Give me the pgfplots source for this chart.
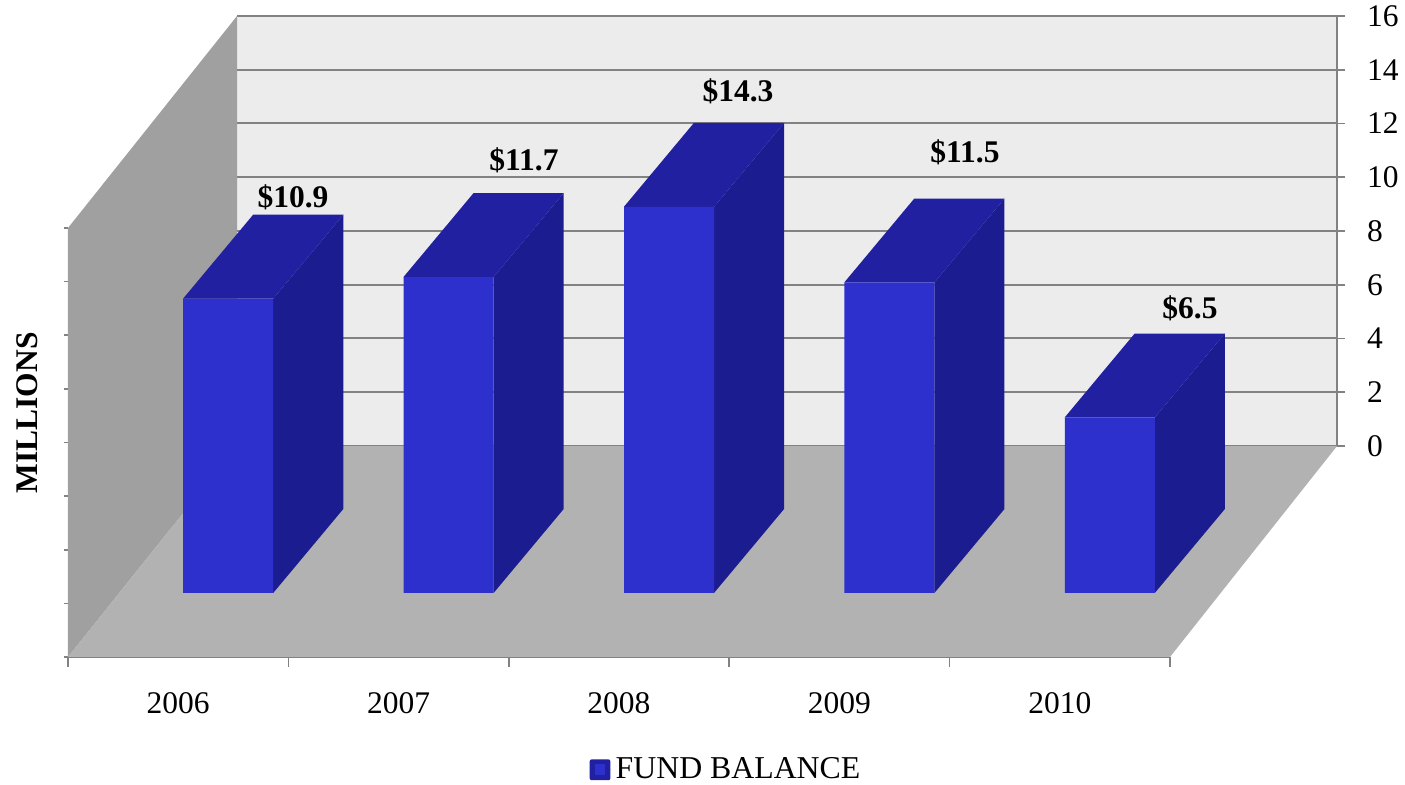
\documentclass[border=0pt]{standalone}
\usepackage{fontspec}
\setmainfont{Liberation Serif}
\usepackage{pgfplots}
\pgfplotsset{compat=1.18}
\definecolor{barfront}{RGB}{46,48,205}
\definecolor{barside}{RGB}{28,28,145}
\definecolor{bartop}{RGB}{32,32,160}
\definecolor{wallback}{RGB}{236,236,236}
\definecolor{wallleft}{RGB}{160,160,160}
\definecolor{floorgrey}{RGB}{178,178,178}
\definecolor{rulegrey}{RGB}{130,130,130}
\begin{document}
\begin{tikzpicture}
\path[use as bounding box] (0pt,0pt) rectangle (702.5pt,392.5pt);
\pgfplotsset{
  every axis/.append style={
    scale only axis,
    tick align=outside,
    /pgf/number format/assume math mode=true,
    tick label style={font=\fontsize{15.75}{18}\selectfont},
  }
}
% back wall with its grid and the value scale on the right
\begin{axis}[
  at={(118.5pt,169.5pt)}, anchor=south west, width=550pt, height=215pt,
  xmin=0, xmax=1, ymin=0, ymax=16,
  xtick=\empty,
  x axis line style={draw=none},
  axis line style={-, rulegrey, line width=1pt},
  ymajorgrids, ytick={0,2,...,16},
  axis y line*=right,
  axis x line*=bottom,
  grid style={rulegrey, line width=1pt},
  tick style={rulegrey, line width=0.8pt},
  major tick length=4pt,
  yticklabel style={xshift=7.5pt},
  axis background/.style={fill=wallback},
]
\end{axis}
% tick marks on the front edge of the side wall
\begin{axis}[
  at={(34pt,64pt)}, anchor=south west, width=551pt, height=214.5pt,
  xmin=0, xmax=1, ymin=0, ymax=16,
  xtick=\empty,
  axis line style={-, draw=none},
  axis y line*=left,
  axis x line*=bottom,
  ytick={0,2,...,16},
  yticklabels={},
  tick style={rulegrey, line width=0.8pt},
  major tick length=2pt,
]
\end{axis}
% floor, side wall and bars; y is in millions on the front plane of the bars
\begin{axis}[
  at={(34pt,64pt)}, anchor=south west, width=551pt, height=320.5pt,
  xmin=0, xmax=5, ymin=-2.37, ymax=21.37,
  clip=false,
  axis y line=none,
  axis x line=bottom,
  x tick style={},
  tick align=outside,
  axis line style={-, rulegrey, line width=1pt},
  xtick={0.5,1.5,2.5,3.5,4.5},
  xticklabels={2006,2007,2008,2009,2010},
  minor xtick={0,1,2,3,4,5},
  major tick length=0pt,
  minor tick length=5pt,
  minor tick style={rulegrey, line width=0.8pt},
  xticklabel style={yshift=-14pt},
  legend style={at={(0.598,-0.176)}, anchor=center, draw=none, fill=none,
    font=\fontsize{15.9}{18}\selectfont, inner sep=0pt,
    /tikz/every even column/.style={column sep=0pt}},
  legend cell align=left,
]
% side wall and floor
\addplot[forget plot, draw=none, fill=wallleft] coordinates
  {(0,-2.37) (0,13.52) (0.767,21.37) (0.767,5.444)} -- cycle;
\addplot[forget plot, draw=none, fill=floorgrey] coordinates
  {(0,-2.37) (5,-2.37) (5.758,5.444) (0.767,5.444)} -- cycle;

% right faces of the bars
\addplot[forget plot, draw=none, fill=barside] coordinates {(0.931,0) (1.249,3.11) (1.249,14.01) (0.931,10.9)} -- cycle;
\addplot[forget plot, draw=none, fill=barside] coordinates {(1.931,0) (2.249,3.11) (2.249,14.81) (1.931,11.7)} -- cycle;
\addplot[forget plot, draw=none, fill=barside] coordinates {(2.931,0) (3.249,3.11) (3.249,17.41) (2.931,14.3)} -- cycle;
\addplot[forget plot, draw=none, fill=barside] coordinates {(3.931,0) (4.249,3.11) (4.249,14.61) (3.931,11.5)} -- cycle;
\addplot[forget plot, draw=none, fill=barside] coordinates {(4.931,0) (5.249,3.11) (5.249,9.61) (4.931,6.5)} -- cycle;

% top faces of the bars
\addplot[forget plot, draw=none, fill=bartop] coordinates {(0.522,10.9) (0.840,14.01) (1.249,14.01) (0.931,10.9)} -- cycle;
\addplot[forget plot, draw=none, fill=bartop] coordinates {(1.522,11.7) (1.840,14.81) (2.249,14.81) (1.931,11.7)} -- cycle;
\addplot[forget plot, draw=none, fill=bartop] coordinates {(2.522,14.3) (2.840,17.41) (3.249,17.41) (2.931,14.3)} -- cycle;
\addplot[forget plot, draw=none, fill=bartop] coordinates {(3.522,11.5) (3.840,14.61) (4.249,14.61) (3.931,11.5)} -- cycle;
\addplot[forget plot, draw=none, fill=bartop] coordinates {(4.522,6.5) (4.840,9.61) (5.249,9.61) (4.931,6.5)} -- cycle;

% front faces
\addplot[ybar, bar width=45pt, draw=none, fill=barfront,
  legend image code/.code={
    \fill[bartop, rounded corners=1pt] (0pt,-5.2pt) rectangle (10.4pt,5.2pt);
    \fill[barfront] (2.5pt,-2.7pt) rectangle (7.9pt,2.7pt);
    \path (10.4pt,0pt) -- (11pt,0pt);
  }] coordinates {(0.727,10.9) (1.727,11.7) (2.727,14.3) (3.727,11.5) (4.727,6.5)};
\addlegendentry{FUND BALANCE}

% value labels above the bars
\begin{scope}[every node/.style={font=\fontsize{15.75}{18}\selectfont\bfseries, inner sep=0pt}]
\node at (axis cs:1.021,14.67) {\$10.9};
\node at (axis cs:2.069,16.04) {\$11.7};
\node at (axis cs:3.040,18.59) {\$14.3};
\node at (axis cs:4.070,16.33) {\$11.5};
\node at (axis cs:5.091,10.56) {\$6.5};
\node[rotate=90] at (axis cs:-0.186,6.67) {MILLIONS};
\end{scope}
\end{axis}
\end{tikzpicture}
\end{document}
